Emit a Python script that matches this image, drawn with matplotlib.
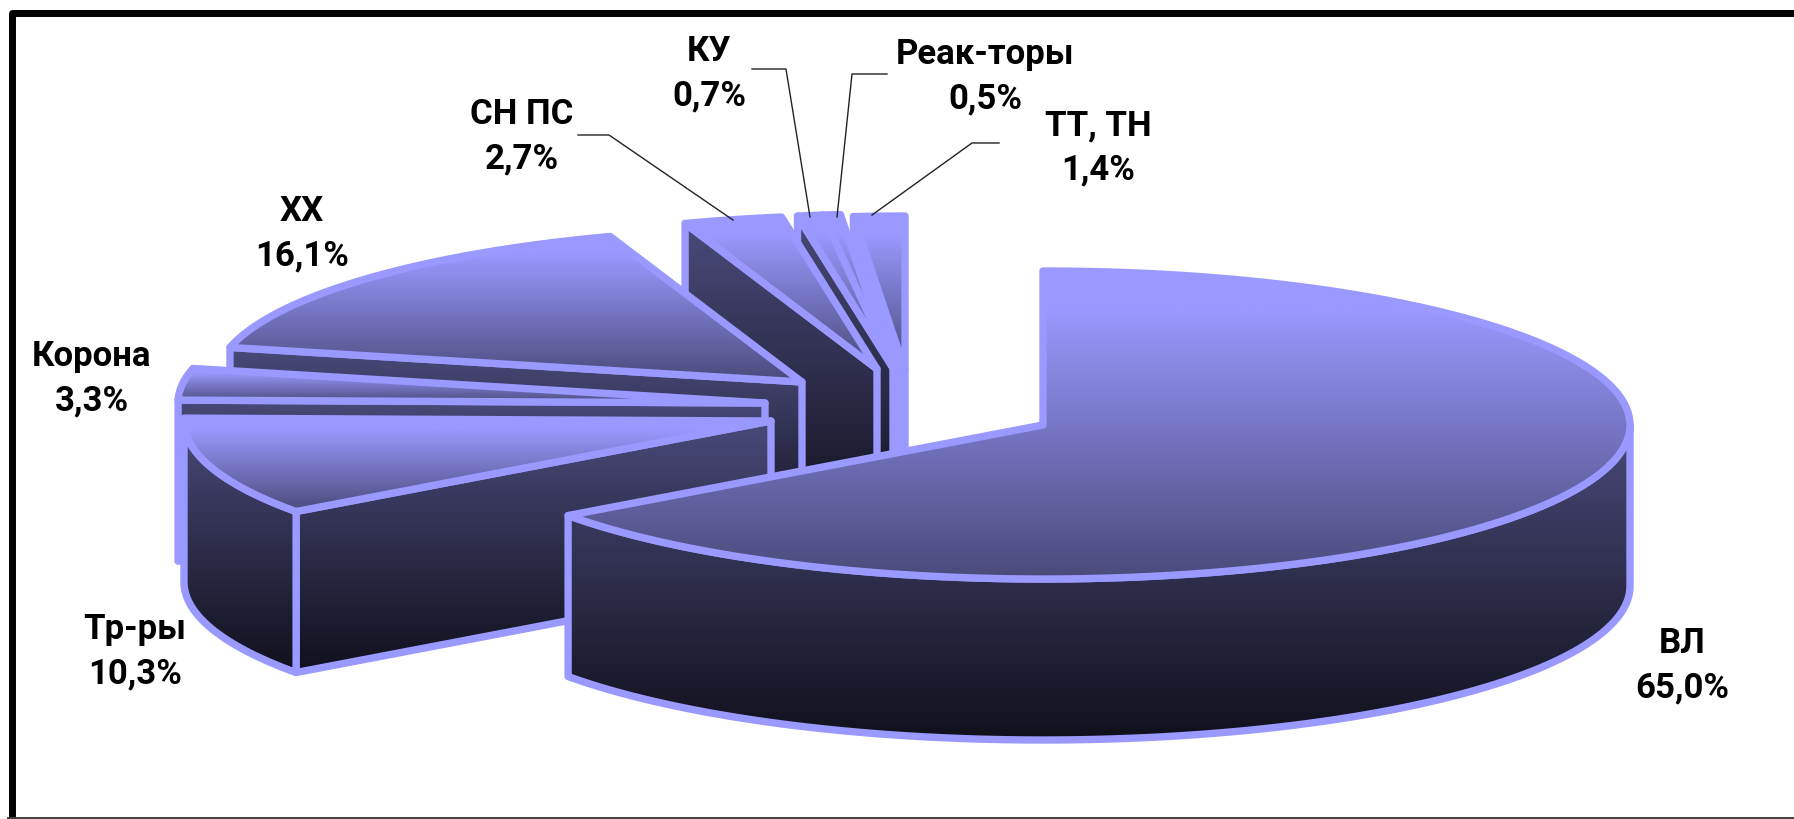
import numpy as np
import matplotlib
matplotlib.use("Agg")
import matplotlib.pyplot as plt
from matplotlib.colors import LinearSegmentedColormap
from matplotlib.patches import Polygon

labels = ["ВЛ", "Тр-ры", "Корона", "ХХ", "СН ПС", "КУ", "Реак-торы", "ТТ, ТН"]
values = [65.0, 10.3, 3.3, 16.1, 2.7, 0.7, 0.5, 1.4]

W, H = 1794, 819
# pie geometry, in pixels of the full size picture
rx, ry, depth = 587, 154, 161
centers = [(1043, 425), (771, 421), (765, 403), (802, 382), (877, 369), (893, 368), (892, 368), (905, 370)]
label_pos = [(1682, 663), (135, 649), (92, 376), (302, 231), (522, 134), (709, 71), (985, 74), (1098, 145)]
# these two are so thin that the outline swallows their cut face
solid_side = ["Реак-торы", "ТТ, ТН"]
# elbow and end of the leader lines
leaders = {
    "СН ПС": [(578, 135), (609, 135), (733, 220)],
    "КУ": [(752, 69), (786, 69), (810, 217)],
    "Реак-торы": [(887, 74), (852, 74), (837, 217)],
    "ТТ, ТН": [(999, 143), (972, 143), (872, 215)],
}

edge = "#9999FF"
top_cmap = LinearSegmentedColormap.from_list("top", [(0, "#9999FF"), (0.12, "#9999FF"), (1, "#4A4A7A")])
side_cmap = LinearSegmentedColormap.from_list("side", ["#4A4A7A", "#10101C"])

fig = plt.figure(figsize=(W / 100, H / 100), dpi=100)
ax = fig.add_axes([0, 0, 1, 1])


def rim(c, a):
    # a is clockwise from 12 o'clock, in degrees
    a = np.radians(a)
    return np.column_stack([c[0] + rx * np.sin(a), c[1] - ry * np.cos(a)])


def face(pts, cmap, z):
    pts = np.asarray(pts)
    x0, x1 = pts[:, 0].min(), pts[:, 0].max()
    y0, y1 = pts[:, 1].min(), pts[:, 1].max()
    grad = np.linspace(0, 1, 256).reshape(-1, 1)
    im = ax.imshow(grad, cmap=cmap, vmin=0, vmax=1, extent=[x0, x1, y1, y0], aspect="auto",
                   interpolation="bilinear", zorder=z)
    fill = Polygon(pts, closed=True, facecolor="none", edgecolor="none", zorder=z)
    ax.add_patch(fill)
    im.set_clip_path(fill)
    ax.add_patch(Polygon(pts, closed=True, facecolor="none", edgecolor=edge, lw=5.3,
                         joinstyle="round", zorder=z + 0.5))


ends = np.cumsum(values) / 100 * 360
starts = np.r_[0, ends[:-1]]

# back slices first, ВЛ comes last
for i in range(len(values) - 1, -1, -1):
    c = centers[i]
    a0, a1 = starts[i], ends[i]
    z = 10 * (len(values) - i)
    arc = rim(c, np.linspace(a0, a1, 200))
    apex = np.array([c])
    down = np.array([0, depth])

    # cut face on the clockwise start of the slice
    if a0 > 180:
        p = np.vstack([apex, arc[:1], arc[:1] + down, apex + down])
        if labels[i] in solid_side:
            ax.add_patch(Polygon(p, closed=True, facecolor=edge, edgecolor=edge, lw=5.3,
                                 joinstyle="round", zorder=z))
        else:
            face(p, side_cmap, z)
    # outer wall, only the front half of the rim shows
    v0, v1 = max(a0, 90), min(a1, 270)
    if v1 > v0:
        wall = rim(c, np.linspace(v0, v1, 200))
        face(np.vstack([wall, wall[::-1] + down]), side_cmap, z + 1)
    face(np.vstack([apex, arc]), top_cmap, z + 2)

for name, val, pos in zip(labels, values, label_pos):
    s = f"{val:.1f}%".replace(".", ",")
    ax.text(pos[0], pos[1] - 10, name, ha="center", va="baseline", fontsize=25, fontweight="bold",
            family="Roboto", color="black", zorder=200)
    ax.text(pos[0], pos[1] + 34, s, ha="center", va="baseline", fontsize=25, fontweight="bold",
            family="Roboto", color="black", zorder=200)

for pts in leaders.values():
    pts = np.array(pts)
    ax.plot(pts[:, 0], pts[:, 1], color="#222222", lw=1.0, zorder=150)

# black frame, open on the right, thin line at the bottom
ax.plot([11.5, 11.5, W + 5], [H + 5, 12.5, 12.5], color="black", lw=5.0, solid_joinstyle="round", zorder=300)
ax.plot([8, W], [818, 818], color="#404040", lw=1.4, zorder=300)

ax.set_xlim(0, W)
ax.set_ylim(H, 0)
ax.axis("off")
fig.savefig("out.png", dpi=100, facecolor="white")
